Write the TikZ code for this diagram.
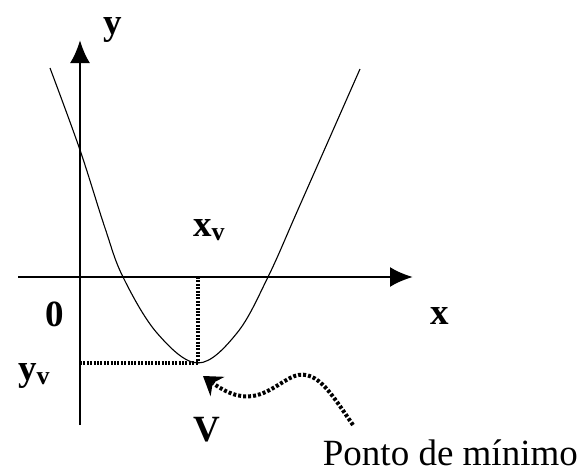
\documentclass[tikz,border=0pt]{standalone}
\usepackage{fontspec}
\setmainfont{Liberation Serif}
\usetikzlibrary{arrows.meta}
\begin{document}
\begin{tikzpicture}[x=1pt,y=-1pt,
  axis/.style={line width=2.6pt,-{Latex[length=23pt,width=20pt]}},
  curve/.style={line width=1.1pt},
  guide/.style={line width=3.6pt,dash pattern=on 2pt off 1.4pt},
  pointer/.style={line width=4pt,dash pattern=on 3pt off 2pt},
  lbl/.style={font=\fontsize{37}{40}\selectfont\bfseries,inner sep=0pt},
  note/.style={font=\fontsize{37}{40}\selectfont,inner sep=0pt}]
\useasboundingbox (0,0) rectangle (584,474);
% axes
\coordinate (ybot) at (80,425);
\coordinate (ytop) at (80,40);
\coordinate (xleft) at (18,277);
\coordinate (xright) at (413,277);
\draw[axis] (ybot) -- (ytop);
\draw[axis] (xleft) -- (xright);
% parabola
\coordinate (V) at (198,363);
\draw[curve] plot[smooth,tension=0.6] coordinates {(50,68) (80,150) (105,228) (123,277) (157,333) (198,363) (237,333) (268,277) (300,205) (360,69)};
% guides
\coordinate (xv) at (198,277);
\coordinate (yv) at (80,363);
\draw[guide] (xv) -- (V);
\draw[guide] (yv) -- (V);
% labels
\node[lbl] (ly) at (113,30) {y};
\node[lbl] (lxv) at (209,230) {x\textsubscript{v}};
\node[lbl] (l0) at (55,314) {0};
\node[lbl] (lx) at (440,316) {x};
\node[lbl] (lyv) at (34,376) {y\textsubscript{v}};
\node[lbl] (lV) at (207,430) {V};
\node[note,anchor=base east] (pm) at (578,465) {Ponto de mínimo};
% wavy pointer
\coordinate (ws) at (353,425);
\coordinate (wt) at (203,376);
\draw[pointer,-{Stealth[length=18pt,width=24pt,inset=6pt,line width=0pt]}] (ws) .. controls (330,392) and (315,365) .. (290,378) .. controls (268,390) and (250,410) .. (wt);
\end{tikzpicture}
\end{document}
